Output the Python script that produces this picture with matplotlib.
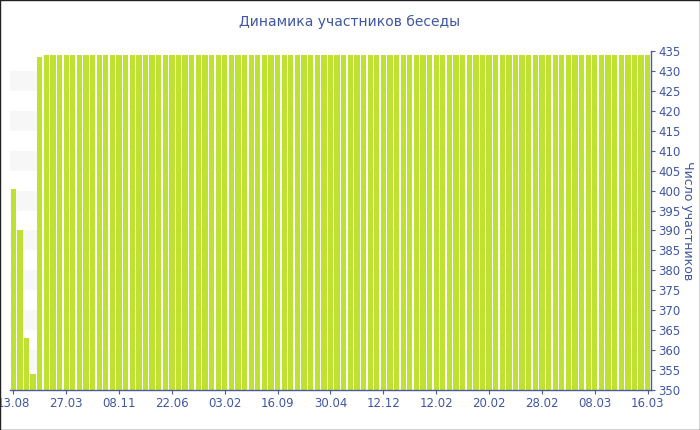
import matplotlib
matplotlib.use("Agg")
import matplotlib.pyplot as plt
from matplotlib.patches import Rectangle

# participant counts, one bar per snapshot
first_values = [400.5, 390, 363, 354, 433.5]
steady_values = [434] * 92          # every remaining bar reads 434
values = first_values + steady_values

tick_labels = ["13.08", "27.03", "08.11", "22.06", "03.02", "16.09", "30.04",
               "12.12", "12.02", "20.02", "28.02", "08.03", "16.03"]
tick_step = 8

title = "Динамика участников беседы"
ylabel = "Число участников"

BAR = "#bfe232"
AXIS = "#4a5b99"
TEXT = "#3f57a3"
BAND = "#f7f7f7"

fig = plt.figure(figsize=(7, 4.3), dpi=100)
ax = fig.add_axes([10 / 700, 40 / 430, 641 / 700, 339 / 430])

ymin, ymax = 350, 435
# light alternating bands
for lo in range(355, 430, 10):
    ax.axhspan(lo, lo + 5, color=BAND, zorder=0, lw=0)

xs = list(range(len(values)))
ax.bar(xs, values, width=0.8, color=BAR, zorder=2)

ax.set_xlim(-0.5, len(values) - 0.5)
ax.set_ylim(ymin, ymax)

ax.set_xticks(xs[::tick_step])
ax.set_xticklabels(tick_labels)
ax.set_yticks(range(ymin, ymax + 1, 5))

ax.yaxis.tick_right()
ax.yaxis.set_label_position("right")
ax.set_ylabel(ylabel, color=TEXT, fontsize=9, rotation=270, labelpad=10)

for s in ("left", "top"):
    ax.spines[s].set_visible(False)
for s in ("right", "bottom"):
    ax.spines[s].set_color(AXIS)
    ax.spines[s].set_linewidth(1)

ax.tick_params(axis="both", colors=AXIS, labelcolor=TEXT, labelsize=8.5,
               length=3, width=0.8, pad=2)

fig.text(0.5, 1 - 22 / 430, title, ha="center", va="center",
         color=TEXT, fontsize=10)

fig.patches.append(Rectangle((0, 0), 1, 1, transform=fig.transFigure,
                             fill=False, edgecolor="#222222", lw=1))

fig.savefig("out.png", dpi=100)
